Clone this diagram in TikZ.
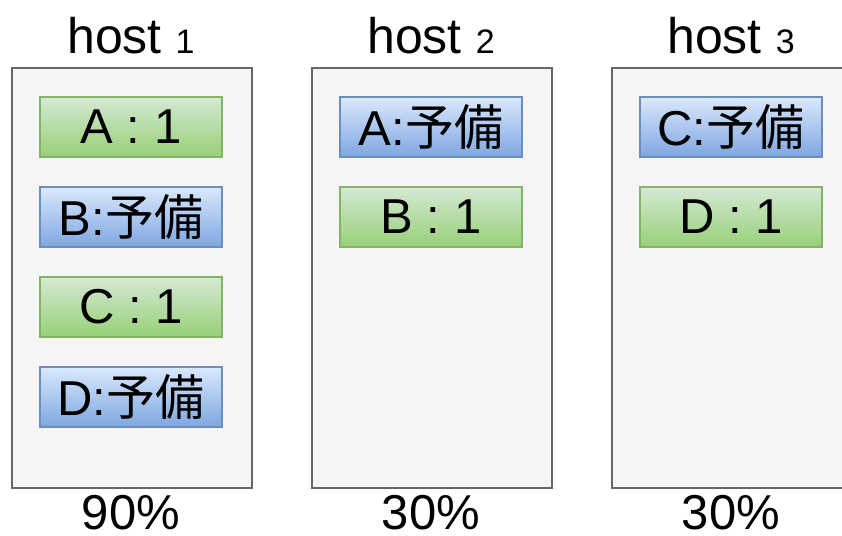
\documentclass[tikz,border=0pt]{standalone}
\usepackage{fontspec}
\setmainfont{Liberation Sans}
\newfontfamily\cjk{Noto Sans CJK JP}
\definecolor{hostfill}{HTML}{F5F5F5}
\definecolor{hostline}{HTML}{666666}
\definecolor{gtop}{HTML}{D5E8D4}
\definecolor{gbot}{HTML}{97D077}
\definecolor{gline}{HTML}{82B366}
\definecolor{btop}{HTML}{DAE8FC}
\definecolor{bbot}{HTML}{7EA6E0}
\definecolor{bline}{HTML}{6C8EBF}
\begin{document}
\begin{tikzpicture}[x=1pt,y=-1pt,
  hostbox/.style={draw=hostline, fill=hostfill, line width=2pt,
    minimum width=240pt, minimum height=420pt, inner sep=0pt, anchor=north west},
  slot/.style={line width=1.5pt, minimum width=182pt, minimum height=60pt,
    inner sep=0pt, font=\fontsize{49}{56}\selectfont},
  active/.style={slot, draw=gline, top color=gtop, bottom color=gbot},
  spare/.style={slot, draw=bline, top color=btop, bottom color=bbot},
  title/.style={anchor=base, inner sep=0pt, font=\fontsize{50}{56}\selectfont},
  load/.style={anchor=base, inner sep=0pt, font=\fontsize{49}{56}\selectfont}]
\useasboundingbox (0,0) rectangle (842,535);

% hosts
\node[hostbox] (h1) at (11,67) {};
\node[hostbox] (h2) at (311,67) {};
\node[hostbox] (h3) at (611,67) {};

% host titles
\node[title] (t1) at (131,53) {host {\fontsize{34}{40}\selectfont 1}};
\node[title] (t2) at (431,53) {host {\fontsize{34}{40}\selectfont 2}};
\node[title] (t3) at (731,53) {host {\fontsize{34}{40}\selectfont 3}};

% host 1 slots
\node[active] (a1) at (131,127) {A : 1};
\node[spare]  (b1) at (131,217) {B:{\cjk 予備}};
\node[active] (c1) at (131,307) {C : 1};
\node[spare]  (d1) at (131,397) {D:{\cjk 予備}};

% host 2 slots
\node[spare]  (a2) at (431,127) {A:{\cjk 予備}};
\node[active] (b2) at (431,217) {B : 1};

% host 3 slots
\node[spare]  (c3) at (731,127) {C:{\cjk 予備}};
\node[active] (d3) at (731,217) {D : 1};

% load figures
\node[load] (p1) at (131,529) {90\%};
\node[load] (p2) at (431,529) {30\%};
\node[load] (p3) at (731,529) {30\%};
\end{tikzpicture}
\end{document}
